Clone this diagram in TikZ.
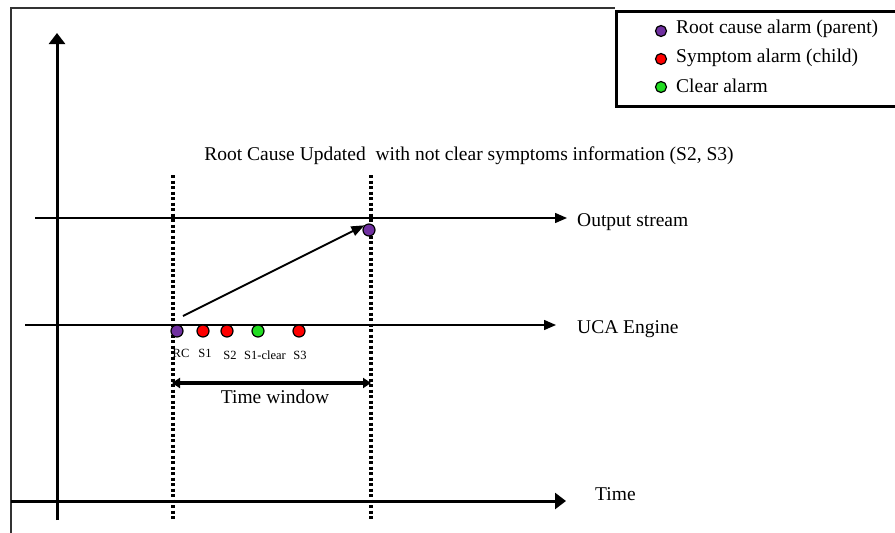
\documentclass[tikz,border=0pt]{standalone}
\usepackage{fontspec}
\setmainfont{Liberation Serif}
\usetikzlibrary{arrows.meta}
\definecolor{rcpurple}{HTML}{7030A0}
\definecolor{symred}{HTML}{FF0000}
\definecolor{clrgreen}{HTML}{22DD22}
\begin{document}
\begin{tikzpicture}[x=1pt,y=-1pt,
  lbl/.style={inner sep=0pt,anchor=west,font=\fontsize{19.5}{22}\selectfont},
  small/.style={inner sep=0pt,font=\fontsize{12.5}{14}\selectfont},
  alarm/.style={circle,draw=black,line width=1.2pt,minimum size=12pt,inner sep=0pt},
  axis/.style={line width=3pt,-{Triangle[length=11pt,width=16pt]}},
  stream/.style={line width=1.5pt,-{Triangle[length=12pt,width=10pt]}},
  winline/.style={line width=3.5pt,dash pattern=on 3pt off 2.5pt}]
\useasboundingbox (0,0) rectangle (895,533);
\fill[white] (0,0) rectangle (895,533);
% outer frame (cropped)
\draw[line width=1.3pt,black!80] (11,533) -- (11,8) -- (615,8);
% legend
\draw[line width=3pt] (616,11) rectangle (900,106);
\node[alarm,fill=rcpurple,minimum size=11pt] (lp) at (661,31) {};
\node[alarm,fill=symred,minimum size=11pt] (lr) at (661,59) {};
\node[alarm,fill=clrgreen,minimum size=11pt] (lg) at (661,87) {};
\node[lbl] (tp) at (676,29) {Root cause alarm (parent)};
\node[lbl] (tr) at (676,58) {Symptom alarm (child)};
\node[lbl] (tg) at (676,86) {Clear alarm};
% axes
\coordinate (ybot) at (57,520);
\coordinate (ytop) at (57,33);
\draw[axis] (ybot) -- (ytop);
\coordinate (tl) at (11,501);
\coordinate (tr2) at (566,501);
\draw[axis] (tl) -- (tr2);
\node[lbl] (time) at (595,494) {Time};
% dotted window lines
\coordinate (d1t) at (173,175); \coordinate (d1b) at (173,520);
\coordinate (d2t) at (371,175); \coordinate (d2b) at (371,520);
\draw[winline] (d1t) -- (d1b);
\draw[winline] (d2t) -- (d2b);
% streams
\coordinate (os0) at (35,218); \coordinate (os1) at (567,218);
\draw[stream] (os0) -- (os1);
\node[lbl] (ostext) at (577,222) {Output stream};
\coordinate (uc0) at (25,325); \coordinate (uc1) at (556,325);
\draw[stream] (uc0) -- (uc1);
\node[lbl] (uctext) at (577,329) {UCA Engine};
% title
\node[inner sep=0pt,font=\fontsize{19.5}{22}\selectfont] (title) at (469,156) {Root Cause Updated\ \ with not clear symptoms information (S2, S3)};
% alarms
\node[alarm,fill=rcpurple] (rc) at (177,331) {};
\node[alarm,fill=symred] (s1) at (203,331) {};
\node[alarm,fill=symred] (s2) at (227,331) {};
\node[alarm,fill=clrgreen] (s1c) at (258,331) {};
\node[alarm,fill=symred] (s3) at (299,331) {};
\node[alarm,fill=rcpurple] (out) at (369,230) {};
\node[small] (lrc) at (181,353) {RC};
\node[small] (ls1) at (205,353) {S1};
\node[small] (ls2) at (230,355) {S2};
\node[small] (ls1c) at (265,355) {S1-clear};
\node[small] (ls3) at (300,355) {S3};
% update arrow
\coordinate (ua) at (183,316);
\draw[line width=2pt,-{Triangle[length=13pt,width=10pt]}] (ua) -- (out.north west);
% time window
\coordinate (tw0) at (172,383); \coordinate (tw1) at (371,383);
\draw[line width=3.3pt,{Triangle[length=8pt,width=10pt]}-{Triangle[length=8pt,width=10pt]}] (tw0) -- (tw1);
\node[lbl,anchor=center] (twtext) at (275,397) {Time window};
\end{tikzpicture}
\end{document}
